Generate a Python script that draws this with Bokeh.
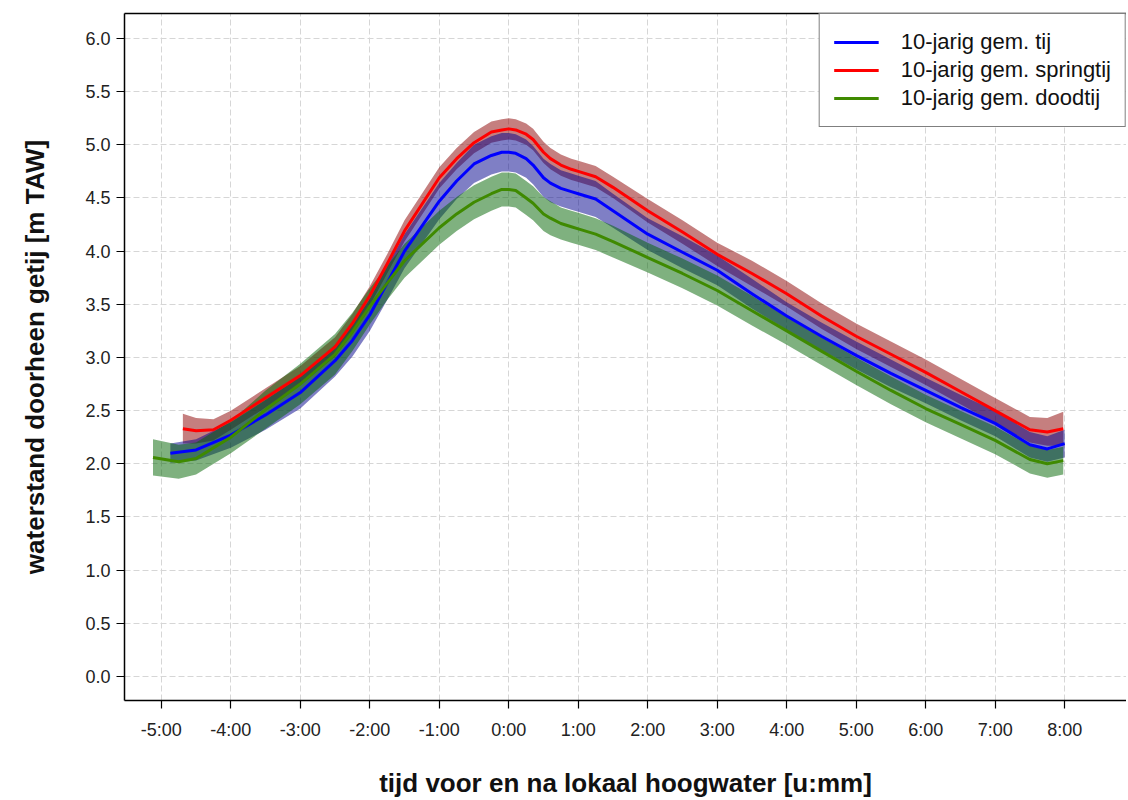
from bokeh.plotting import figure
from bokeh.models import FixedTicker, Legend, LegendItem, LinearAxis, Range1d
from bokeh.embed import file_html
from bokeh.resources import INLINE

# ---- data (hours relative to local high water, water level m TAW) ----
t_tij = [-4.87, -4.5, -4.0, -3.5, -3.0, -2.5, -2.25, -2.0, -1.75, -1.5, -1.0, -0.75, -0.5, -0.25, -0.1,
         0.0, 0.1, 0.25, 0.35, 0.5, 0.6, 0.75, 0.9, 1.0, 1.25, 1.5, 2.0, 2.5, 3.0, 3.5,
         4.0, 4.5, 5.0, 5.5, 6.0, 6.5, 7.0, 7.5, 7.75, 8.0]
v_tij = [2.10, 2.13, 2.27, 2.46, 2.67, 2.97, 3.16, 3.40, 3.70, 4.00, 4.47, 4.66, 4.82, 4.90, 4.93,
         4.93, 4.92, 4.87, 4.81, 4.69, 4.64, 4.59, 4.56, 4.54, 4.49, 4.38, 4.16, 3.99, 3.82, 3.60,
         3.39, 3.20, 3.02, 2.85, 2.69, 2.53, 2.38, 2.18, 2.14, 2.19]
s_tij = [0.09, 0.10, 0.12, 0.14, 0.15, 0.15, 0.15, 0.15, 0.16, 0.16, 0.17, 0.17, 0.18, 0.18, 0.18,
         0.18, 0.18, 0.18, 0.18, 0.18, 0.18, 0.17, 0.17, 0.17, 0.17, 0.16, 0.15, 0.15, 0.14, 0.14,
         0.13, 0.13, 0.13, 0.13, 0.12, 0.12, 0.12, 0.12, 0.12, 0.13]

t_spring = [-4.69, -4.5, -4.25, -4.0, -3.5, -3.0, -2.5, -2.25, -2.0, -1.75, -1.5, -1.0, -0.75, -0.5,
            -0.25, -0.1, 0.0, 0.1, 0.25, 0.35, 0.5, 0.6, 0.75, 0.9, 1.0, 1.25, 1.5, 2.0, 2.5, 3.0,
            3.5, 4.0, 4.5, 5.0, 5.5, 6.0, 6.5, 7.0, 7.5, 7.75, 7.98]
v_spring = [2.33, 2.31, 2.32, 2.41, 2.62, 2.83, 3.10, 3.32, 3.58, 3.88, 4.19, 4.69, 4.87, 5.02,
            5.12, 5.14, 5.15, 5.14, 5.10, 5.05, 4.93, 4.87, 4.81, 4.77, 4.75, 4.70, 4.60, 4.38, 4.18, 3.97,
            3.79, 3.60, 3.39, 3.20, 3.03, 2.86, 2.68, 2.50, 2.32, 2.30, 2.33]
s_spring = [0.14, 0.12, 0.10, 0.09, 0.09, 0.09, 0.09, 0.09, 0.09, 0.09, 0.10, 0.10, 0.10, 0.10,
            0.10, 0.10, 0.10, 0.10, 0.10, 0.10, 0.10, 0.10, 0.10, 0.10, 0.10, 0.10, 0.10, 0.11, 0.11, 0.11,
            0.12, 0.12, 0.12, 0.12, 0.12, 0.12, 0.12, 0.12, 0.12, 0.13, 0.16]

t_dood = [-5.12, -4.75, -4.5, -4.0, -3.5, -3.0, -2.5, -2.25, -2.0, -1.75, -1.5, -1.0, -0.75, -0.5,
          -0.25, -0.1, 0.0, 0.1, 0.25, 0.35, 0.5, 0.6, 0.75, 0.9, 1.0, 1.25, 1.5, 2.0, 2.5, 3.0,
          3.5, 4.0, 4.5, 5.0, 5.5, 6.0, 6.5, 7.0, 7.5, 7.75, 7.98]
v_dood = [2.06, 2.02, 2.05, 2.25, 2.51, 2.75, 3.03, 3.24, 3.48, 3.70, 3.91, 4.22, 4.35, 4.46,
          4.54, 4.58, 4.58, 4.57, 4.50, 4.45, 4.35, 4.31, 4.26, 4.23, 4.21, 4.16, 4.09, 3.94, 3.79, 3.63,
          3.44, 3.25, 3.06, 2.87, 2.69, 2.52, 2.37, 2.22, 2.04, 2.00, 2.03]
s_dood = [0.17, 0.16, 0.15, 0.15, 0.18, 0.19, 0.19, 0.18, 0.17, 0.16, 0.16, 0.16, 0.16, 0.16,
          0.16, 0.16, 0.16, 0.16, 0.16, 0.16, 0.16, 0.16, 0.15, 0.15, 0.15, 0.15, 0.15, 0.14, 0.14, 0.14,
          0.14, 0.13, 0.13, 0.13, 0.13, 0.13, 0.13, 0.13, 0.13, 0.13, 0.13]

x_ticks = [-5, -4, -3, -2, -1, 0, 1, 2, 3, 4, 5, 6, 7, 8]
x_tick_labels = ["-5:00", "-4:00", "-3:00", "-2:00", "-1:00", "0:00", "1:00", "2:00",
                 "3:00", "4:00", "5:00", "6:00", "7:00", "8:00"]
y_ticks = [0.0, 0.5, 1.0, 1.5, 2.0, 2.5, 3.0, 3.5, 4.0, 4.5, 5.0, 5.5, 6.0]
y_tick_labels = ["0.0", "0.5", "1.0", "1.5", "2.0", "2.5", "3.0", "3.5", "4.0", "4.5", "5.0", "5.5", "6.0"]

labels = ["10-jarig gem. tij", "10-jarig gem. springtij", "10-jarig gem. doodtij"]

FONT = "Liberation Sans"

p = figure(frame_width=1002, frame_height=687,
           x_range=Range1d(-5.53, 8.89), y_range=Range1d(-0.226, 6.235),
           output_backend="svg", toolbar_location=None,
           min_border_left=124, min_border_right=0, min_border_top=13, min_border_bottom=96,
           background_fill_color="white", border_fill_color="white")
p.outline_line_color = None

# axes
for ax in (p.xaxis[0], p.yaxis[0]):
    ax.axis_line_color = "black"
    ax.axis_line_width = 1.5
    ax.major_tick_line_color = "black"
    ax.major_tick_line_width = 1.2
    ax.major_tick_in = 0
    ax.major_tick_out = 8
    ax.minor_tick_line_color = None
    ax.major_label_text_font = FONT
    ax.major_label_text_font_size = "18px"
    ax.major_label_text_color = "#222222"
    ax.axis_label_text_font = FONT
    ax.axis_label_text_font_style = "bold"
    ax.axis_label_text_font_size = "26px"
    ax.axis_label_text_color = "#111111"

p.xaxis.ticker = FixedTicker(ticks=x_ticks)
p.xaxis.major_label_overrides = {t: l for t, l in zip(x_ticks, x_tick_labels)}
p.yaxis.ticker = FixedTicker(ticks=y_ticks)
p.yaxis.major_label_overrides = {t: l for t, l in zip(y_ticks, y_tick_labels)}
p.xaxis.axis_label = "tijd voor en na lokaal hoogwater [u:mm]"
p.yaxis.axis_label = "waterstand doorheen getij [m TAW]"
p.xaxis.major_label_standoff = 11
p.xaxis.axis_label_standoff = 25
p.yaxis.major_label_standoff = 6
p.yaxis.axis_label_standoff = 32

top = LinearAxis(ticker=FixedTicker(ticks=[]), axis_line_color="black", axis_line_width=1.5,
                 major_tick_line_color=None, minor_tick_line_color=None,
                 major_label_text_font_size="0px", major_label_standoff=0)
p.add_layout(top, "above")

# grid
for g in (p.xgrid[0], p.ygrid[0]):
    g.grid_line_color = "#d6d6d6"
    g.grid_line_dash = "6 3"
    g.grid_line_width = 1
p.xgrid.ticker = FixedTicker(ticks=x_ticks)
p.ygrid.ticker = FixedTicker(ticks=y_ticks)

# bands
series = [
    (t_spring, v_spring, s_spring, "#8b0000"),
    (t_tij, v_tij, s_tij, "#00008b"),
    (t_dood, v_dood, s_dood, "#006400"),
]
for t, v, s, fc in series:
    lo = [a - b for a, b in zip(v, s)]
    hi = [a + b for a, b in zip(v, s)]
    p.varea(x=t, y1=lo, y2=hi, fill_color=fc, fill_alpha=0.5)

r_tij = p.line(t_tij, v_tij, line_color="#0000ff", line_width=3, line_join="round")
r_spring = p.line(t_spring, v_spring, line_color="#ff0000", line_width=3, line_join="round")
r_dood = p.line(t_dood, v_dood, line_color="#3f8a00", line_width=3, line_join="round")

legend = Legend(items=[LegendItem(label=labels[0], renderers=[r_tij]),
                       LegendItem(label=labels[1], renderers=[r_spring]),
                       LegendItem(label=labels[2], renderers=[r_dood])],
                location="top_right", margin=0, padding=14, spacing=0,
                glyph_width=45, glyph_height=28, label_height=28, label_standoff=22,
                label_text_font=FONT, label_text_font_size="22px", label_text_color="#111111",
                border_line_color="black", border_line_width=1.5,
                background_fill_color="white", background_fill_alpha=1.0)
p.add_layout(legend, "center")

open("out.html", "w").write(file_html(p, INLINE))
